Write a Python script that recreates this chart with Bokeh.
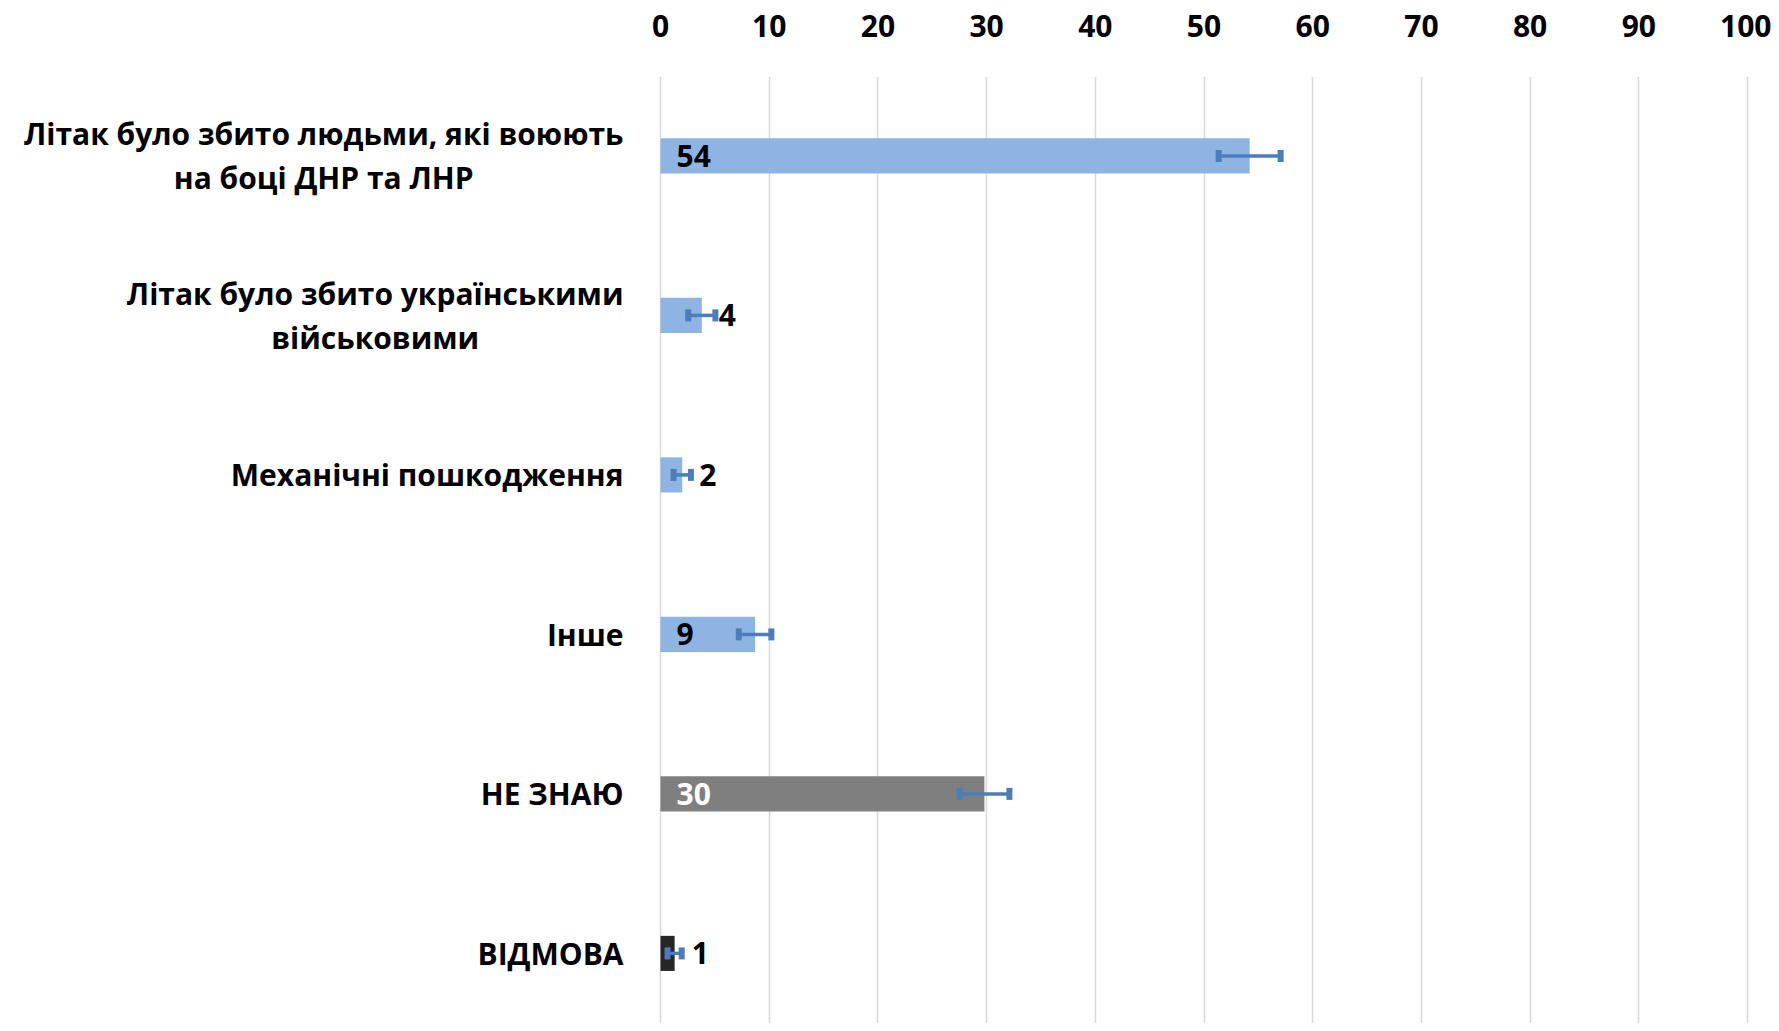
import subprocess
from bokeh.plotting import figure
from bokeh.models import (ColumnDataSource, Range1d, FixedTicker, Whisker,
                          TeeHead)
from bokeh.core.properties import value
from bokeh.embed import file_html
from bokeh.resources import INLINE

# ---- data ----
categories = [
    ["Літак було збито людьми, які воюють", "на боці ДНР та ЛНР"],
    ["Літак було збито українськими", "військовими"],
    ["Механічні пошкодження"],
    ["Інше"],
    ["НЕ ЗНАЮ"],
    ["ВІДМОВА"],
]
values = [54.2, 3.8, 2.0, 8.7, 29.8, 1.3]
errors = [2.85, 1.25, 0.8, 1.5, 2.3, 0.65]
label_texts = ["54", "4", "2", "9", "30", "1"]
label_inside = [True, False, False, True, True, False]
bar_colors = ["#8EB4E3", "#8EB4E3", "#8EB4E3", "#8EB4E3", "#7F7F7F", "#262626"]
label_colors = ["#000000", "#000000", "#000000", "#000000", "#FFFFFF", "#000000"]
x_ticks = [0, 10, 20, 30, 40, 50, 60, 70, 80, 90, 100]

FONT = "Open Sans"
FS = 30

# layout (pixels)
W, H = 1771, 1023
LEFT_PX = 660          # where x=0 sits
PLOT_PX = 1087         # pixels from 0 to 100
TOP = 76
BAND = 159.5
FIRST_CENTER = 155.4


def make_measure():
    try:
        from PIL import ImageFont
        path = subprocess.run(["fc-match", "-f", "%{file}", "Open Sans:bold"],
                              capture_output=True, text=True).stdout.strip()
        f = ImageFont.truetype(path, FS)
        bold_ok = "Bold" in path
        try:
            axes = f.get_variation_axes()
            vals = []
            for a in axes:
                nm = a.get("name", b"")
                nm = nm.decode() if isinstance(nm, bytes) else str(nm)
                if nm.lower().startswith("weight"):
                    vals.append(700)
                else:
                    vals.append(a.get("default", 100))
            f.set_variation_by_axes(vals)
            bold_ok = True
        except Exception:
            pass
        scale = 1.0 if bold_ok else 1.09
        return lambda s: f.getlength(s) * scale
    except Exception:
        return lambda s: 0.6 * FS * len(s)


measure = make_measure()

k = PLOT_PX / 100.0
x_start = -LEFT_PX / k
x_end = 100 + (W - LEFT_PX - PLOT_PX) / k
y_top = (TOP - FIRST_CENTER) / BAND
y_bottom = (H - FIRST_CENTER) / BAND

ys = list(range(len(values)))
src = ColumnDataSource(dict(
    y=ys, v=values, color=bar_colors,
    lo=[v - e for v, e in zip(values, errors)],
    hi=[v + e for v, e in zip(values, errors)],
))

p = figure(width=W, height=H, output_backend="svg", toolbar_location=None,
           x_range=Range1d(x_start, x_end), y_range=Range1d(y_bottom, y_top),
           x_axis_location="above", y_axis_location=None,
           min_border_left=0, min_border_right=0, min_border_top=TOP,
           min_border_bottom=0)
p.outline_line_color = None
p.background_fill_color = "white"
p.border_fill_color = "white"

# axis & grid
ax = p.xaxis[0]
ax.ticker = FixedTicker(ticks=x_ticks)
ax.axis_line_color = None
ax.major_tick_line_color = None
ax.minor_tick_line_color = None
ax.major_label_standoff = 34
ax.major_label_text_font = FONT
ax.major_label_text_font_style = "bold"
ax.major_label_text_font_size = f"{FS}px"
ax.major_label_text_color = "#000000"
p.xgrid.ticker = FixedTicker(ticks=x_ticks)
p.xgrid.grid_line_color = "#D9D9D9"
p.xgrid.grid_line_width = 1.5
p.ygrid.visible = False

p.hbar(y="y", right="v", left=0, height=0.22, fill_color="color",
       line_color=None, source=src)

cap_color = "#4A7EBB"
w = Whisker(source=src, base="y", lower="lo", upper="hi", dimension="width",
            line_color=cap_color, line_width=3.5, level="annotation",
            upper_head=TeeHead(size=12, line_color=cap_color, line_width=6),
            lower_head=TeeHead(size=12, line_color=cap_color, line_width=6))
p.add_layout(w)

# value labels
lab_src = ColumnDataSource(dict(
    x=[0 if ins else v for v, ins in zip(values, label_inside)],
    y=ys, text=label_texts, color=label_colors,
    xo=[16 if ins else 17 for ins in label_inside],
))
p.text(x="x", y="y", text="text", x_offset="xo", text_color="color",
       source=lab_src, text_font=value(FONT), text_font_style="bold",
       text_font_size=f"{FS}px", text_align="left", text_baseline="middle",
       level="overlay")

# category labels: centered block, right edge 37px left of x=0
gap = 37
line_step = 44
cx, cy, cxo, cyo, ct = [], [], [], [], []
for i, lines in enumerate(categories):
    bw = max(measure(s) for s in lines)
    n = len(lines)
    for j, s in enumerate(lines):
        cx.append(0)
        cy.append(i)
        cxo.append(-(gap + bw / 2))
        cyo.append((j - (n - 1) / 2) * line_step)
        ct.append(s)
cat_src = ColumnDataSource(dict(x=cx, y=cy, xo=cxo, yo=cyo, text=ct))
p.text(x="x", y="y", x_offset="xo", y_offset="yo", text="text",
       source=cat_src, text_font=value(FONT), text_font_style="bold",
       text_font_size=f"{FS}px", text_align="center", text_baseline="middle",
       text_color="#000000")

open("out.html", "w").write(file_html(p, INLINE))
